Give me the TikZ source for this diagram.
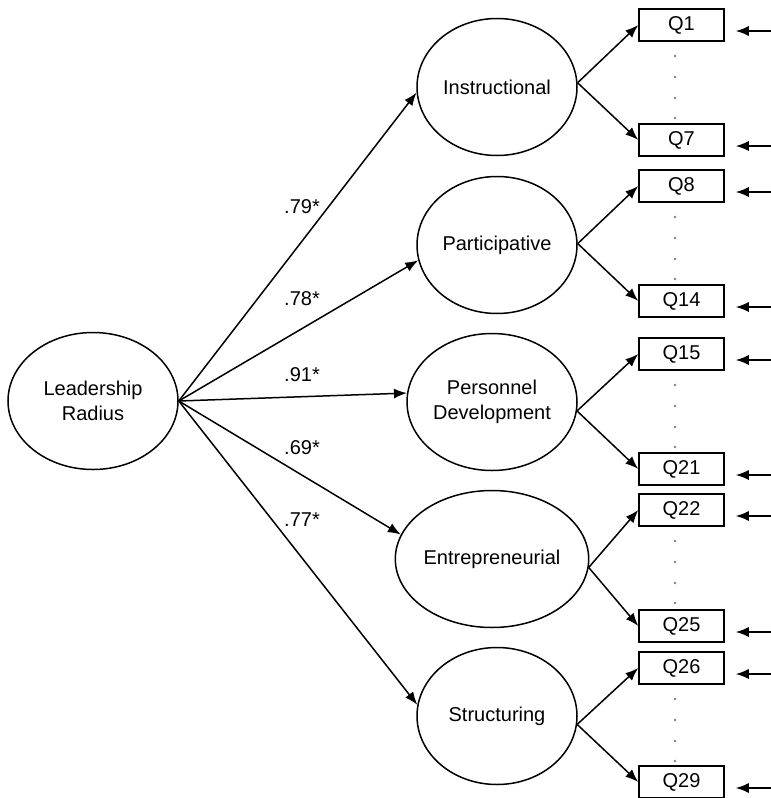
\documentclass[tikz,border=0pt]{standalone}
\usepackage{fontspec}
\setmainfont{Liberation Sans}
\usetikzlibrary{shapes.geometric,arrows.meta}
\begin{document}
\begin{tikzpicture}[x=1pt, y=-1pt, every node/.style={font=\fontsize{20}{25}\selectfont, inner sep=0pt}, every path/.style={line width=1.5pt},
  factor/.style={ellipse, draw, align=center, minimum height=137pt},
  item/.style={rectangle, draw, minimum width=85pt, minimum height=32pt},
  arr/.style={-{Latex[length=13pt,width=10pt]}}]
  \useasboundingbox (0,0) rectangle (771,798);
  % latent factors
  \node[factor, minimum width=170pt] (lr) at (93,401) {Leadership\\Radius};
  \node[factor, minimum width=160pt] (ins) at (497,87) {Instructional};
  \node[factor, minimum width=160pt] (par) at (497,245) {Participative};
  \node[factor, minimum width=170pt] (pd) at (492,402) {Personnel\\Development};
  \node[factor, minimum width=170pt] (ent) at (492,559) {Entrepreneurial};
  \node[factor, minimum width=160pt] (str) at (497,716) {Structuring};
  % loadings
  \node (l1) at (302,207) {.79*};
  \node (l2) at (302,299) {.78*};
  \node (l3) at (302,375) {.91*};
  \node (l4) at (302,448) {.69*};
  \node (l5) at (302,520) {.77*};
  \foreach \f/\a in {ins/184, par/191, pd/174, ent/165, str/172}
    \draw[arr] (lr.east) -- (\f.\a);
  % items
  \foreach \f/\b/\top/\bot/\yt/\yb in {ins/3/1/7/25/140, par/1/8/14/186/301, pd/-6/15/21/354/469, ent/-5/22/25/510/626, str/-6/26/29/668/782} {
    \node[item] (q\top) at (681.5,\yt) {Q\top};
    \node[item] (q\bot) at (681.5,\yb) {Q\bot};
    \draw[arr] (\f.\b) -- (q\top.west);
    \draw[arr] (\f.\b) -- (q\bot.west);
    \foreach \d in {31,52,73,93}
      \fill[gray] (675,\yt+\d) circle (1.3pt);
    \coordinate (e\top) at (771,\yt+6);
    \coordinate (e\bot) at (771,\yb+6);
    \draw[arr, shorten >=11pt] (e\top) -- (e\top -| q\top.east);
    \draw[arr, shorten >=11pt] (e\bot) -- (e\bot -| q\bot.east);
  }
\end{tikzpicture}
\end{document}
